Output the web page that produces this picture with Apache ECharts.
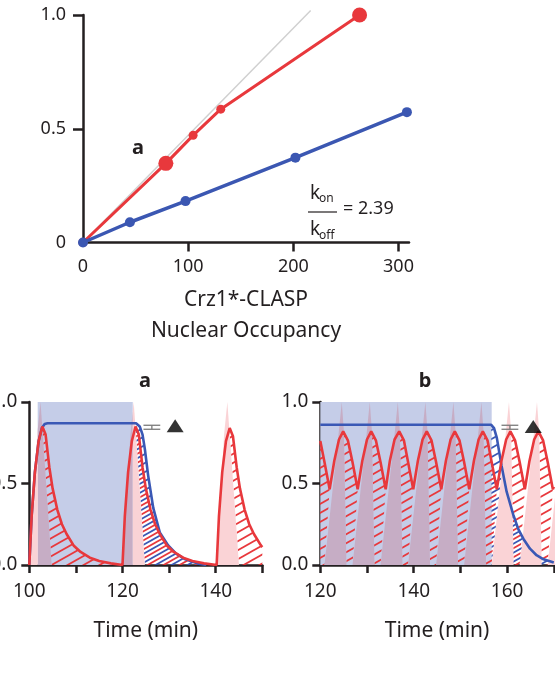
<!DOCTYPE html>
<html>
<head>
<meta charset="utf-8">
<script src="https://cdn.jsdelivr.net/npm/echarts@6/dist/echarts.min.js"></script>
<style>
  html, body { margin: 0; padding: 0; background: #fff; }
  #chart { width: 555px; height: 677px; }
</style>
</head>
<body>
<div id="chart"></div>
<script>
// ---- top panel: occupancy ----
const occRed = [[0, 0], [78.8, 0.348], [104.7, 0.471], [131, 0.586], [263, 1.0]];
const occRedBig = [1, 4];
const occBlue = [[0, 0], [44.6, 0.089], [97.5, 0.182], [202, 0.373], [308, 0.573]];
const occGuide = [[0, 0], [216.5, 1.02]];
const kRatio = '2.39';

// ---- panel a ----
const redA = [
  [100.0, 0], [100.5, 0.3], [101.2, 0.57], [102.0, 0.76], [102.8, 0.85], [103.5, 0.8], [104.3, 0.6], [105.0, 0.47],
  [106.0, 0.34], [107.0, 0.25], [108.0, 0.19], [109.5, 0.12], [111.0, 0.08], [113.0, 0.045], [115.0, 0.025], [117.5, 0.01], [120.0, 0],
  [120.5, 0.3], [121.2, 0.57], [122.0, 0.76], [122.8, 0.85], [123.5, 0.8], [124.3, 0.6], [125.0, 0.47],
  [126.0, 0.34], [127.0, 0.25], [128.0, 0.19], [129.5, 0.12], [131.0, 0.08], [133.0, 0.045], [135.0, 0.025], [137.5, 0.01], [140.2, 0],
  [140.7, 0.3], [141.4, 0.57], [142.2, 0.76], [143.0, 0.84], [143.7, 0.79], [144.5, 0.6], [145.2, 0.47],
  [146.2, 0.34], [147.2, 0.25], [148.2, 0.19], [149.7, 0.12], [150.0, 0.11]
];
const blueA = [
  [100, 0], [100.5, 0.3], [101.2, 0.57], [102.0, 0.76], [102.7, 0.84], [103.3, 0.865], [103.9, 0.87], [122.9, 0.87],
  [123.7, 0.85], [124.3, 0.8], [124.8, 0.71], [125.5, 0.55], [126.6, 0.35], [128.0, 0.2], [129.8, 0.12],
  [131.5, 0.07], [133.5, 0.035], [136.0, 0.01], [138.0, 0]
];
const stimA = [101.8, 122.2];
// spikes: [left base, apex, right base]
const spikesA = [[100.0, 102.4, 104.8], [120.0, 122.4, 124.8], [140.2, 142.5, 145.0]];
const errA = [126.3, 0.845, 1.8];
const triA = [131.3, 0.855];

// ---- panel b ----
const redB = [
  [120.0, 0.76], [120.9, 0.63], [121.5, 0.54], [122.0, 0.465],
  [123.0, 0.64], [124.0, 0.77], [124.9, 0.82], [125.9, 0.765], [126.9, 0.63], [127.5, 0.54], [128.0, 0.465],
  [129.0, 0.64], [130.0, 0.77], [130.9, 0.82], [131.9, 0.765], [132.9, 0.63], [133.5, 0.54], [134.0, 0.465],
  [134.9, 0.64], [135.9, 0.77], [136.9, 0.82], [137.9, 0.765], [138.8, 0.63], [139.4, 0.54], [139.9, 0.465],
  [140.9, 0.64], [141.9, 0.77], [142.8, 0.82], [143.8, 0.765], [144.8, 0.63], [145.4, 0.54], [145.9, 0.465],
  [146.9, 0.64], [147.9, 0.77], [148.8, 0.82], [149.8, 0.765], [150.8, 0.63], [151.4, 0.54], [151.9, 0.465],
  [152.9, 0.64], [153.9, 0.77], [154.8, 0.82], [155.8, 0.765], [156.7, 0.63], [157.3, 0.54], [157.8, 0.465],
  [158.8, 0.64], [159.8, 0.77], [160.7, 0.82], [161.7, 0.765], [162.7, 0.63], [163.3, 0.54], [163.8, 0.465],
  [164.8, 0.64], [165.8, 0.77], [166.7, 0.82], [167.7, 0.765], [168.7, 0.63], [169.3, 0.54], [169.8, 0.465], [170.0, 0.48]
];
const blueB = [
  [120, 0.86], [156.6, 0.86], [157.2, 0.84], [157.8, 0.78], [158.8, 0.61], [159.9, 0.45], [161.3, 0.31],
  [162.4, 0.22], [163.5, 0.16], [164.9, 0.1], [166.3, 0.06], [167.8, 0.035], [170, 0.015]
];
const stimB = [120, 156.7];
const spikesB = [
  [114.9, 118.6, 119.6], [120.9, 124.6, 125.6], [126.9, 130.6, 131.6], [132.9, 136.6, 137.6],
  [138.8, 142.5, 143.5], [144.8, 148.5, 149.5], [150.8, 154.5, 155.5], [156.7, 160.4, 161.4],
  [162.7, 166.4, 167.4], [168.7, 172.4, 173.4]
];
const errB = [160.6, 0.845, 1.8];
const triB = [165.6, 0.85];

// ---- styling ----
const FONT = '"Noto Sans", sans-serif';
const INK = '#231f20';
const RED = '#e8383c';
const BLUE = '#3a58b5';
const STIM = '#c5cde8';
const PINK = '#fad3d6';
const MAUVE = '#c6adc5';

function hatchTile(color, offset) {
  const c = document.createElement('canvas');
  c.width = 16; c.height = 9;
  const ctx = c.getContext('2d');
  ctx.strokeStyle = color;
  ctx.lineWidth = 1.8;
  for (let k = -2; k <= 2; k++) {
    ctx.beginPath();
    ctx.moveTo(-2, 9 + offset + 9 * k + 2 * 9 / 16);
    ctx.lineTo(18, 9 + offset + 9 * k - 18 * 9 / 16);
    ctx.stroke();
  }
  return { image: c, repeat: 'repeat' };
}
const redHatch = hatchTile(RED, 0);
const blueHatch = hatchTile(BLUE, 4.5);

function spikePoly(s) {
  return [[s[0], 0], [s[1] - 0.7, 0.8], [s[1], 1.0], [s[1] + 0.45, 0.82], [s[2], 0]];
}
// hatched area under a curve, starting at the right edge of a spike
function hatchPoly(curve, s, tEnd, tClose) {
  const pts = [[s[2], 0], [s[1] + 0.45, 0.82]];
  curve.forEach(p => { if (p[0] > s[1] + 0.45 && p[0] <= tEnd) pts.push(p); });
  pts.push([tClose, 0]);
  return pts;
}
function rectPoly(r) {
  return [[r[0], 0], [r[1], 0], [r[1], 1], [r[0], 1]];
}
// cut a polygon at a vertical line, keeping the side where keep(x) is true
function cutX(poly, X, keepLeft) {
  const inside = p => (keepLeft ? p[0] <= X : p[0] >= X);
  const out = [];
  for (let i = 0; i < poly.length; i++) {
    const cur = poly[i], prev = poly[(i + poly.length - 1) % poly.length];
    const cross = () => {
      const t = (X - prev[0]) / (cur[0] - prev[0]);
      return [X, prev[1] + t * (cur[1] - prev[1])];
    };
    if (inside(cur)) {
      if (!inside(prev)) out.push(cross());
      out.push(cur);
    } else if (inside(prev)) {
      out.push(cross());
    }
  }
  return out;
}
// split spikes into the part over the stimulus band and the parts outside
function splitSpikes(spikes, stim) {
  const inner = [], outer = [];
  spikes.map(spikePoly).forEach(p => {
    const a = cutX(cutX(p, stim[0], false), stim[1], true);
    const l = cutX(p, stim[0], true);
    const r = cutX(p, stim[1], false);
    if (a.length > 2) inner.push(a);
    if (l.length > 2) outer.push(l);
    if (r.length > 2) outer.push(r);
  });
  return { inner, outer };
}

const hatchRedA = [
  hatchPoly(redA, spikesA[0], 120.0, 120.0),
  hatchPoly(redA, spikesA[1], 140.2, 140.2),
  hatchPoly(redA, spikesA[2], 150.0, 150.0)
];
const hatchBlueA = [hatchPoly(blueA, spikesA[1], 138.0, 138.0)];
const hatchRedB = [];
for (let i = 0; i < spikesB.length - 1; i++) {
  hatchRedB.push(hatchPoly(redB, spikesB[i], spikesB[i + 1][0] + 1.15, spikesB[i + 1][0]));
}
const hatchBlueB = [[[stimB[1], 0]].concat(blueB.filter(p => p[0] >= stimB[1] - 0.1)).concat([[170, 0]])];

function polySeries(ax, polys, style, z) {
  return {
    type: 'custom', xAxisIndex: ax, yAxisIndex: ax, clip: true, silent: true, z: z,
    data: polys.map((p, i) => [p[0][0], p[0][1], i]),
    encode: { x: 0, y: 1 },
    renderItem: function (params, api) {
      const poly = polys[api.value(2)];
      return {
        type: 'polygon',
        shape: { points: poly.map(pt => api.coord(pt)) },
        style: Object.assign({}, style)
      };
    }
  };
}
function errSeries(ax, e) {
  return {
    type: 'custom', xAxisIndex: ax, yAxisIndex: ax, silent: true, z: 8,
    data: [e],
    renderItem: function (params, api) {
      const c = api.coord([api.value(0), api.value(1)]);
      const x1 = api.coord([api.value(0) - api.value(2), api.value(1)])[0];
      const x2 = api.coord([api.value(0) + api.value(2), api.value(1)])[0];
      const st = { stroke: '#7a7a7a', lineWidth: 1.3 };
      return {
        type: 'group', children: [
          { type: 'line', shape: { x1: x1, y1: c[1] - 2, x2: x2, y2: c[1] - 2 }, style: st },
          { type: 'line', shape: { x1: x1, y1: c[1] + 2, x2: x2, y2: c[1] + 2 }, style: st },
          { type: 'line', shape: { x1: c[0], y1: c[1] - 2, x2: c[0], y2: c[1] + 2 }, style: st }
        ]
      };
    }
  };
}
function panelSeries(ax, red, blue, stim, spikes, hRed, hBlue, err, tri) {
  const sp = splitSpikes(spikes, stim);
  return [
    polySeries(ax, [rectPoly(stim)], { fill: STIM }, 1),
    polySeries(ax, hRed, { fill: redHatch }, 2),
    polySeries(ax, hBlue, { fill: blueHatch }, 2),
    polySeries(ax, sp.inner, { fill: MAUVE }, 3),
    polySeries(ax, sp.outer, { fill: PINK }, 3),
    { type: 'line', xAxisIndex: ax, yAxisIndex: ax, data: blue, showSymbol: false, symbol: 'none',
      lineStyle: { color: BLUE, width: 2.6 }, z: 4, silent: true },
    { type: 'line', xAxisIndex: ax, yAxisIndex: ax, data: red, showSymbol: false, symbol: 'none',
      lineStyle: { color: RED, width: 2.6 }, z: 5, silent: true },
    errSeries(ax, err),
    { type: 'scatter', xAxisIndex: ax, yAxisIndex: ax, data: [tri], symbol: 'triangle',
      symbolSize: [17, 13], itemStyle: { color: '#000' }, z: 8, silent: true }
  ];
}

const axisLine = { show: true, onZero: false, lineStyle: { color: INK, width: 2.5 } };
const axisTick = { show: true, length: 8, lineStyle: { color: INK, width: 2.5 } };

function timeX(grid, min, max) {
  return {
    gridIndex: grid, type: 'value', min: min, max: max, interval: 10,
    axisLine: axisLine, axisTick: axisTick, splitLine: { show: false },
    axisLabel: { fontSize: 19, color: INK, margin: 17, fontFamily: FONT,
      formatter: v => (v % 20 === 0 ? String(v) : '') },
    name: 'Time (min)', nameLocation: 'middle', nameGap: 56,
    nameTextStyle: { fontSize: 21, color: INK, fontFamily: FONT }
  };
}
function fracY(grid) {
  return {
    gridIndex: grid, type: 'value', min: 0, max: 1, interval: 0.5,
    axisLine: axisLine, axisTick: axisTick, splitLine: { show: false },
    axisLabel: { fontSize: 19, color: INK, margin: 12, fontFamily: FONT, formatter: v => v.toFixed(1) }
  };
}

const chart = echarts.init(document.getElementById('chart'), null, { renderer: 'canvas' });
chart.setOption({
  animation: false,
  backgroundColor: '#fff',
  textStyle: { fontFamily: FONT },
  grid: [
    { left: 83, top: 15, width: 326, height: 227.5, outerBoundsMode: 'none', containLabel: false },
    { left: 29.3, top: 402, width: 233, height: 163, outerBoundsMode: 'none', containLabel: false },
    { left: 320.3, top: 402, width: 233.5, height: 163, outerBoundsMode: 'none', containLabel: false }
  ],
  xAxis: [
    {
      gridIndex: 0, type: 'value', min: 0, max: 310,
      axisLine: axisLine,
      axisTick: Object.assign({}, axisTick, { customValues: [100, 200, 300], length: 9 }),
      axisLabel: { customValues: [0, 100, 200, 300], fontSize: 18, color: INK, margin: 15, fontFamily: FONT },
      splitLine: { show: false },
      name: 'Crz1*-CLASP\nNuclear Occupancy', nameLocation: 'middle', nameGap: 42,
      nameTextStyle: { fontSize: 21, lineHeight: 31, color: INK, fontFamily: FONT }
    },
    timeX(1, 100, 150),
    timeX(2, 120, 170)
  ],
  yAxis: [
    {
      gridIndex: 0, type: 'value', min: 0, max: 1,
      axisLine: axisLine,
      axisTick: Object.assign({}, axisTick, { customValues: [0.5, 1], length: 10 }),
      axisLabel: { customValues: [0, 0.5, 1], fontSize: 18, color: INK, margin: 17, fontFamily: FONT,
        formatter: v => (v === 0 ? '0' : v.toFixed(1)) },
      splitLine: { show: false }
    },
    fracY(1),
    fracY(2)
  ],
  series: [
    { type: 'line', xAxisIndex: 0, yAxisIndex: 0, data: occGuide, symbol: 'none', clip: false,
      lineStyle: { color: '#d0d0d0', width: 1.5 }, z: 1, silent: true },
    { type: 'line', xAxisIndex: 0, yAxisIndex: 0, data: occRed, symbol: 'circle', clip: false,
      symbolSize: (v, p) => (occRedBig.indexOf(p.dataIndex) >= 0 ? 15 : 9),
      itemStyle: { color: RED }, lineStyle: { color: RED, width: 3 }, z: 2, silent: true },
    { type: 'line', xAxisIndex: 0, yAxisIndex: 0, data: occBlue, symbol: 'circle', symbolSize: 10, clip: false,
      itemStyle: { color: '#3b57b2' }, lineStyle: { color: '#3b57b2', width: 3.5 }, z: 3, silent: true }
  ].concat(
    panelSeries(1, redA, blueA, stimA, spikesA, hatchRedA, hatchBlueA, errA, triA),
    panelSeries(2, redB, blueB, stimB, spikesB, hatchRedB, hatchBlueB, errB, triB)
  ),
  graphic: [
    { type: 'text', x: 138, y: 148, style: { text: 'a', font: 'bold 20px ' + FONT, fill: INK, align: 'center', verticalAlign: 'middle' } },
    { type: 'text', x: 310, y: 194, style: { text: 'k', font: '19px ' + FONT, fill: INK, align: 'left', verticalAlign: 'middle' } },
    { type: 'text', x: 319, y: 199, style: { text: 'on', font: '12px ' + FONT, fill: INK, align: 'left', verticalAlign: 'middle' } },
    { type: 'line', shape: { x1: 308, y1: 212, x2: 337, y2: 212 }, style: { stroke: INK, lineWidth: 1.2 } },
    { type: 'text', x: 310, y: 230, style: { text: 'k', font: '19px ' + FONT, fill: INK, align: 'left', verticalAlign: 'middle' } },
    { type: 'text', x: 319, y: 236, style: { text: 'off', font: '12px ' + FONT, fill: INK, align: 'left', verticalAlign: 'middle' } },
    { type: 'text', x: 343, y: 209, style: { text: '= ' + kRatio, font: '18px ' + FONT, fill: INK, align: 'left', verticalAlign: 'middle' } },
    { type: 'text', x: 145, y: 381, style: { text: 'a', font: 'bold 20px ' + FONT, fill: INK, align: 'center', verticalAlign: 'middle' } },
    { type: 'text', x: 425, y: 381, style: { text: 'b', font: 'bold 20px ' + FONT, fill: INK, align: 'center', verticalAlign: 'middle' } }
  ]
});
</script>
</body>
</html>
